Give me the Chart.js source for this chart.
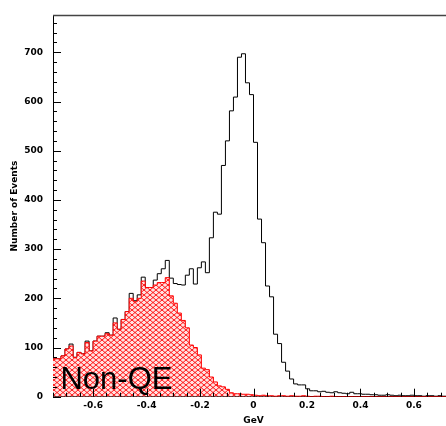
<!DOCTYPE html>
<html>
<head>
<meta charset="utf-8">
<script src="https://cdn.jsdelivr.net/npm/chart.js@4.4.1/dist/chart.umd.min.js"></script>
<style>
  html, body { margin: 0; padding: 0; background: #fff; overflow: hidden; }
  #wrap { width: 470px; height: 426px; }
</style>
</head>
<body>
<div id="wrap"><canvas id="chart" width="470" height="426"></canvas></div>
<script>
// histogram binning: 100 bins from -0.75 to 0.75 GeV
const binLow = -0.75;
const binHigh = 0.75;
const binWidth = 0.015;

// all events (black outline)
const allEvents = [
  77, 77, 83, 97, 107, 80, 90, 87, 113, 93,
  113, 123, 123, 130, 125, 160, 137, 157, 173, 210,
  195, 207, 243, 221, 221, 237, 250, 260, 277, 241,
  230, 228, 227, 247, 260, 229, 262, 274, 252, 323,
  375, 371, 470, 520, 581, 609, 690, 697, 638, 614,
  517, 361, 313, 225, 203, 127, 108, 70, 52, 36,
  26, 24, 24, 16, 12, 12, 10, 11, 9, 8,
  10, 8, 7, 6, 9, 6, 6, 5, 5, 4,
  4, 3, 3, 4, 3, 2, 3, 2, 2, 3,
  2, 2, 1, 2, 2, 1, 2, 1, 1, 1
];

// non-QE component (red hatched)
const nonQE = [
  77, 77, 83, 97, 103, 80, 90, 87, 110, 93,
  113, 123, 123, 128, 125, 150, 137, 157, 173, 200,
  193, 200, 235, 222, 222, 227, 232, 232, 242, 205,
  190, 170, 155, 140, 105, 100, 85, 58, 55, 40,
  30, 22, 20, 15, 8, 6, 6, 5, 5, 4,
  3, 2, 3, 2, 2, 1, 2, 2, 1, 2,
  1, 1, 2, 1, 0, 1, 1, 0, 0, 1,
  0, 0, 0, 0, 0, 0, 0, 0, 0, 0,
  0, 0, 0, 0, 0, 0, 0, 0, 0, 0,
  0, 0, 0, 0, 0, 0, 0, 0, 0, 0
];

const yTicks = [0, 100, 200, 300, 400, 500, 600, 700];
const xTicks = [-0.6, -0.4, -0.2, 0, 0.2, 0.4, 0.6];

// step points at the left edge of every bin, plus the closing right edge
function toSteps(counts) {
  const pts = counts.map((c, i) => ({ x: binLow + i * binWidth, y: c }));
  pts.push({ x: binHigh, y: counts[counts.length - 1] });
  return pts;
}

// red cross hatch like the ROOT fill style
function hatch() {
  const tile = document.createElement('canvas');
  tile.width = 6;
  tile.height = 5;
  const c = tile.getContext('2d');
  c.fillStyle = 'rgba(255,225,225,1)';
  c.fillRect(0, 0, 6, 5);
  c.strokeStyle = 'rgba(255,0,0,0.9)';
  c.lineWidth = 1;
  c.beginPath();
  c.moveTo(0, 0); c.lineTo(6, 5);
  c.moveTo(6, 0); c.lineTo(0, 5);
  c.stroke();
  return c.createPattern(tile, 'repeat');
}

const font = { family: 'DejaVu Sans', size: 9, weight: 'bold' };

const frame = {
  id: 'frame',
  beforeDatasetsDraw(chart) {
    const { ctx, chartArea: a } = chart;
    ctx.save();
    ctx.strokeStyle = '#444';
    ctx.lineWidth = 1.5;
    ctx.beginPath();
    ctx.moveTo(a.left, a.top);
    ctx.lineTo(a.right, a.top);
    ctx.stroke();
    ctx.restore();
  },
  afterDatasetsDraw(chart) {
    const { ctx, chartArea: a, scales } = chart;
    const xs = scales.x, ys = scales.y;
    ctx.save();
    ctx.strokeStyle = '#000';
    ctx.lineWidth = 1;
    ctx.beginPath();
    // y ticks: major 100, minor 20
    for (let v = 0; v <= 760; v += 20) {
      const py = Math.round(ys.getPixelForValue(v)) + 0.5;
      const len = v % 100 === 0 ? 8 : 4;
      ctx.moveTo(a.left, py);
      ctx.lineTo(a.left + len, py);
    }
    // x ticks: major 0.2, minor 0.05
    for (let i = -15; i <= 15; i++) {
      const v = i * 0.05;
      const px = Math.round(xs.getPixelForValue(v)) + 0.5;
      const len = i % 4 === 0 ? 8 : 4;
      ctx.moveTo(px, a.bottom);
      ctx.lineTo(px, a.bottom - len);
    }
    ctx.stroke();
    ctx.fillStyle = '#000';
    ctx.font = '31px "Liberation Sans"';
    ctx.textBaseline = 'alphabetic';
    ctx.fillText('Non-QE', xs.getPixelForValue(-0.722), ys.getPixelForValue(15));
    ctx.restore();
  }
};

new Chart(document.getElementById('chart'), {
  type: 'line',
  data: {
    datasets: [
      {
        label: 'all',
        data: toSteps(allEvents),
        stepped: 'before',
        borderColor: '#000',
        borderWidth: 1,
        pointRadius: 0,
        fill: false,
        order: 2
      },
      {
        label: 'Non-QE',
        data: toSteps(nonQE),
        stepped: 'before',
        borderColor: '#ff0000',
        borderWidth: 1,
        backgroundColor: hatch(),
        pointRadius: 0,
        fill: 'origin',
        order: 1
      }
    ]
  },
  options: {
    responsive: false,
    animation: false,
    devicePixelRatio: 1,
    layout: { padding: { top: 9, right: 16, left: 0, bottom: 0 } },
    plugins: { legend: { display: false }, tooltip: { enabled: false } },
    scales: {
      x: {
        type: 'linear',
        min: binLow,
        max: binHigh,
        afterFit: (s) => { s.height = 29.3; },
        afterBuildTicks: (s) => { s.ticks = xTicks.map(v => ({ value: v })); },
        ticks: { font, color: '#000', padding: 4, maxRotation: 0, autoSkip: false },
        grid: { display: false, drawTicks: false },
        border: { display: true, color: '#000', width: 1 },
        title: { display: true, text: 'GeV', font, color: '#000', padding: 0 }
      },
      y: {
        min: 0,
        max: 775,
        afterFit: (s) => { s.width = 53; },
        afterBuildTicks: (s) => { s.ticks = yTicks.map(v => ({ value: v })); },
        ticks: { font, color: '#000', padding: 10, autoSkip: false },
        grid: { display: false, drawTicks: false },
        border: { display: true, color: '#000', width: 1 },
        title: { display: true, text: 'Number of Events', font, color: '#000', padding: { top: 9, bottom: 0 } }
      }
    }
  },
  plugins: [frame]
});
</script>
</body>
</html>
